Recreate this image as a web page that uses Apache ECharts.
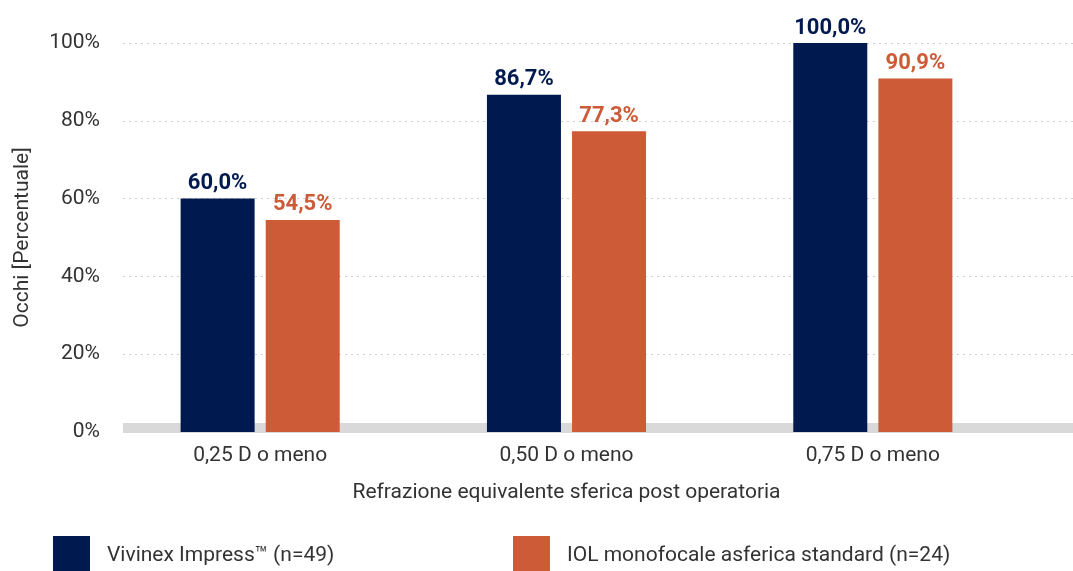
<!DOCTYPE html>
<html>
<head>
<meta charset="utf-8">
<script src="https://cdn.jsdelivr.net/npm/echarts@6/dist/echarts.min.js"></script>
<style>
    html, body { margin: 0; padding: 0; background: #fff; }
    #main { width: 1073px; height: 571px; }
</style>
</head>
<body>
<div id="main"></div>
<script type="text/javascript">

    var categories = ['0,25 D o meno', '0,50 D o meno', '0,75 D o meno'];
    var vivinex = [60.0, 86.7, 100.0];
    var standard = [54.5, 77.3, 90.9];
    var seriesNames = ['Vivinex Impress\u2122 (n=49)', 'IOL monofocale asferica standard (n=24)'];

    var NAVY = '#001a4f';
    var ORANGE = '#cd5b37';
    var FONT = 'Roboto';

    function pct(v) {
        return v.toFixed(1).replace('.', ',') + '%';
    }

    // one legend per series so each square sits where the original has it
    function legendAt(name, left) {
        return {
            data: [name],
            left: left,
            top: 536,
            padding: 0,
            itemWidth: 37,
            itemHeight: 40,
            icon: 'rect',
            selectedMode: false,
            textStyle: { fontFamily: FONT, fontSize: 21, color: '#333', padding: [0, 0, 0, 12] }
        };
    }

    var myChart = echarts.init(document.getElementById('main'));

    var option = {
        animation: false,
        textStyle: { fontFamily: FONT },
        legend: [legendAt(seriesNames[0], 53), legendAt(seriesNames[1], 513)],
        grid: [
            // background grid: gridlines + axis band
            { left: 123, right: 0, top: 43, bottom: 139 },
            // bars
            { left: 107, right: 47, top: 43, bottom: 139 }
        ],
        xAxis: [
            {
                gridIndex: 0,
                type: 'category',
                data: categories,
                offset: -4,
                axisLine: { lineStyle: { color: '#d9d9d9', width: 10, cap: 'butt' } },
                axisTick: { show: false },
                axisLabel: { show: false }
            },
            {
                gridIndex: 1,
                type: 'category',
                data: categories,
                name: 'Refrazione equivalente sferica post operatoria',
                nameLocation: 'middle',
                nameGap: 50,
                nameTextStyle: { fontFamily: FONT, fontSize: 21, color: '#333' },
                axisLine: { show: false },
                axisTick: { show: false },
                axisLabel: { fontFamily: FONT, fontSize: 21, color: '#333', margin: 13 }
            }
        ],
        yAxis: [
            {
                gridIndex: 0,
                type: 'value',
                min: 0,
                max: 100,
                interval: 20,
                name: 'Occhi [Percentuale]',
                nameLocation: 'middle',
                nameGap: 90,
                nameTextStyle: { fontFamily: FONT, fontSize: 21, color: '#333' },
                axisLine: { show: false },
                axisTick: { show: false },
                axisLabel: {
                    fontFamily: FONT, fontSize: 21, color: '#333', margin: 23,
                    formatter: '{value}%'
                },
                splitLine: { lineStyle: { color: '#cfcfcf', type: [2, 4], width: 1 } }
            },
            {
                gridIndex: 1,
                type: 'value',
                min: 0,
                max: 100,
                interval: 20,
                show: false
            }
        ],
        series: [
            {
                name: seriesNames[0],
                type: 'bar',
                xAxisIndex: 1,
                yAxisIndex: 1,
                data: vivinex,
                barWidth: 74,
                barGap: '15%',
                itemStyle: { color: NAVY },
                label: {
                    show: true, position: 'top', distance: 4,
                    fontFamily: FONT, fontSize: 22, fontWeight: 'bold', color: NAVY,
                    formatter: function (p) { return pct(p.value); }
                }
            },
            {
                name: seriesNames[1],
                type: 'bar',
                xAxisIndex: 1,
                yAxisIndex: 1,
                data: standard,
                barWidth: 74,
                barGap: '15%',
                itemStyle: { color: ORANGE },
                label: {
                    show: true, position: 'top', distance: 4,
                    fontFamily: FONT, fontSize: 22, fontWeight: 'bold', color: ORANGE,
                    formatter: function (p) { return pct(p.value); }
                }
            }
        ]
    };

    myChart.setOption(option);

</script>
</body>
</html>
